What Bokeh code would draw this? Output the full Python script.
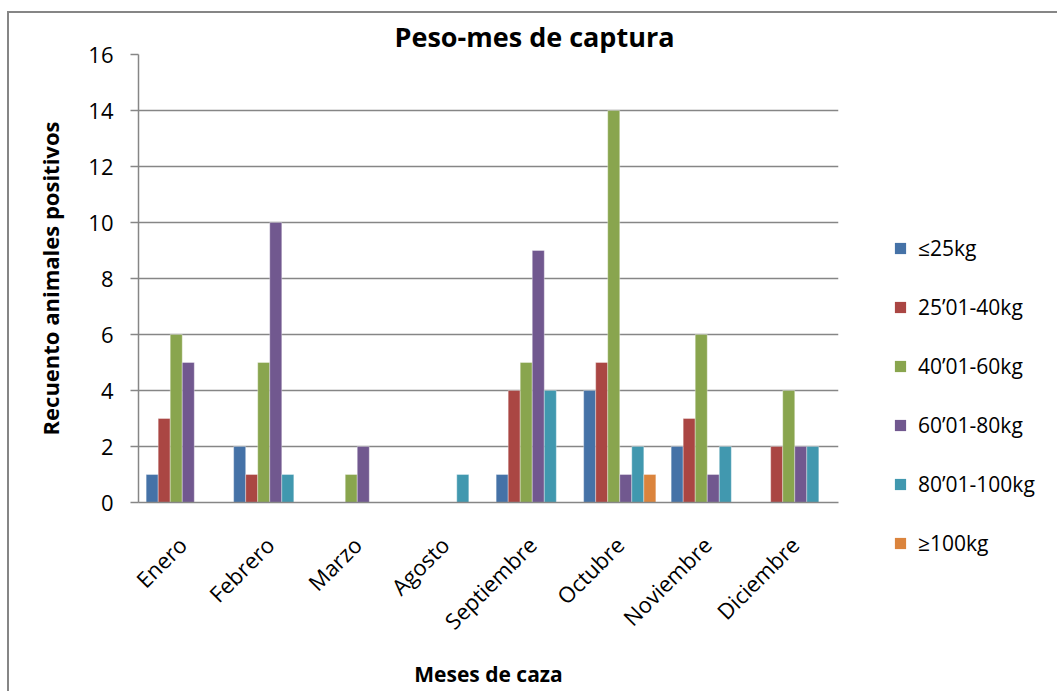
from bokeh.plotting import figure
from bokeh.layouts import row
from bokeh.models import ColumnDataSource, FactorRange, Legend, LegendItem, FixedTicker
from bokeh.transform import dodge
from bokeh.embed import file_html
from bokeh.resources import INLINE
import math

months = ["Enero", "Febrero", "Marzo", "Agosto", "Septiembre", "Octubre", "Noviembre", "Diciembre"]
series_names = ["≤25kg", "25’01-40kg", "40’01-60kg", "60’01-80kg", "80’01-100kg", "≥100kg"]
s_le25 = [1, 2, 0, 0, 1, 4, 2, 0]
s_25_40 = [3, 1, 0, 0, 4, 5, 3, 2]
s_40_60 = [6, 5, 1, 0, 5, 14, 6, 4]
s_60_80 = [5, 10, 2, 0, 9, 1, 1, 2]
s_80_100 = [0, 1, 0, 1, 4, 2, 2, 2]
s_ge100 = [0, 0, 0, 0, 0, 1, 0, 0]
y_ticks = [0, 2, 4, 6, 8, 10, 12, 14, 16]

colors = ["#4572A7", "#AA4643", "#89A54E", "#71588F", "#4198AF", "#DB843D"]
FONT = "Open Sans"
GRAY = "#868686"

keys = ["s0", "s1", "s2", "s3", "s4", "s5"]
data = dict(month=months, s0=s_le25, s1=s_25_40, s2=s_40_60, s3=s_60_80, s4=s_80_100, s5=s_ge100)
src = ColumnDataSource(data)

# page origin of the canvases is (9, 13) because of margin + border
OX, OY = 9, 13
TOTAL_W, H = 1057 - OX, 691 - OY
W_MAIN = 870
W_LEG = TOTAL_W - W_MAIN
FL, FR, FT, FB = 138 - OX, 838 - OX, 54 - OY, 502 - OY

p = figure(x_range=FactorRange(*months, range_padding=0), y_range=(0, 16),
           width=W_MAIN, height=H, output_backend="svg", toolbar_location=None,
           min_border_left=FL, min_border_right=W_MAIN - FR, min_border_top=FT,
           min_border_bottom=H - FB)
p.outline_line_color = None
p.background_fill_color = "white"
p.border_fill_color = "white"

bw = 0.1375
for i, k in enumerate(keys):
    off = (i - 2.5) * bw
    p.vbar(x=dodge("month", off, range=p.x_range), top=k, width=bw, source=src,
           fill_color=colors[i], line_color="white", line_alpha=0.35, line_width=1)

p.xgrid.grid_line_color = None
p.ygrid.grid_line_color = GRAY
p.ygrid.grid_line_width = 1.5

p.yaxis.ticker = FixedTicker(ticks=y_ticks)
p.yaxis.axis_line_color = GRAY
p.yaxis.axis_line_width = 1.5
p.yaxis.major_tick_line_color = GRAY
p.yaxis.major_tick_line_width = 1.5
p.yaxis.major_tick_in = 0
p.yaxis.major_tick_out = 8
p.yaxis.minor_tick_line_color = None
p.yaxis.major_label_text_font = FONT
p.yaxis.major_label_text_font_size = "22px"
p.yaxis.major_label_text_color = "black"
p.yaxis.major_label_standoff = 17
p.yaxis.axis_label = "Recuento animales positivos"
p.yaxis.axis_label_text_font = FONT
p.yaxis.axis_label_text_font_style = "bold"
p.yaxis.axis_label_text_font_size = "22px"
p.yaxis.axis_label_text_color = "black"
p.yaxis.axis_label_standoff = 20

p.xaxis.axis_line_color = GRAY
p.xaxis.axis_line_width = 1.5
p.xaxis.major_tick_line_color = None
p.xaxis.minor_tick_line_color = None
p.xaxis.major_label_orientation = math.pi / 4
p.xaxis.major_label_text_font = FONT
p.xaxis.major_label_text_font_size = "22px"
p.xaxis.major_label_text_color = "black"
p.xaxis.major_label_standoff = 32
p.xaxis.axis_label = "Meses de caza"
p.xaxis.axis_label_text_font = FONT
p.xaxis.axis_label_text_font_style = "bold"
p.xaxis.axis_label_text_font_size = "21px"
p.xaxis.axis_label_text_color = "black"
p.xaxis.axis_label_standoff = 11

p.title.text = "Peso-mes de captura"
p.title.text_font = FONT
p.title.text_font_style = "bold"
p.title.text_font_size = "27px"
p.title.text_color = "black"
p.title.align = "left"
p.title.offset = 256
p.title.standoff = 0

# legend panel: its own canvas to the right, with the same frame borders as the
# main plot (row layouts align frames); it is shifted down by CSS.
LEG_LEFT = 893 - OX - W_MAIN
SHIFT = 234 - 54
pl = figure(width=W_LEG, height=H, output_backend="svg", toolbar_location=None,
            x_range=(0, 1), y_range=(0, 1), min_border_left=LEG_LEFT,
            min_border_top=FT, min_border_right=0, min_border_bottom=H - FB)
pl.axis.visible = False
pl.grid.visible = False
pl.outline_line_color = None
pl.background_fill_color = "white"
pl.border_fill_color = "white"
pl.styles = {"transform": "translateY(%dpx)" % SHIFT}
legend_src = ColumnDataSource(dict(x=[5.0], top=[1.0]))
items = []
for i in range(6):
    r = pl.vbar(x="x", top="top", width=0.1, source=legend_src, fill_color=colors[i],
                line_color=None)
    items.append(LegendItem(label=series_names[i], renderers=[r]))
legend = Legend(items=items, location="top_left", orientation="vertical",
                label_text_font=FONT, label_text_font_size="21px", label_text_color="black",
                glyph_width=14, glyph_height=14, label_height=20, spacing=31,
                padding=0, margin=0, border_line_color=None, background_fill_alpha=0,
                label_standoff=11)
pl.add_layout(legend, "center")

lay = row(p, pl, spacing=0)
lay.styles = {"border-left": "2px solid #868686", "border-top": "2px solid #868686",
              "margin-left": "7px", "margin-top": "11px", "overflow": "hidden"}

open("out.html", "w").write(file_html(lay, INLINE))
